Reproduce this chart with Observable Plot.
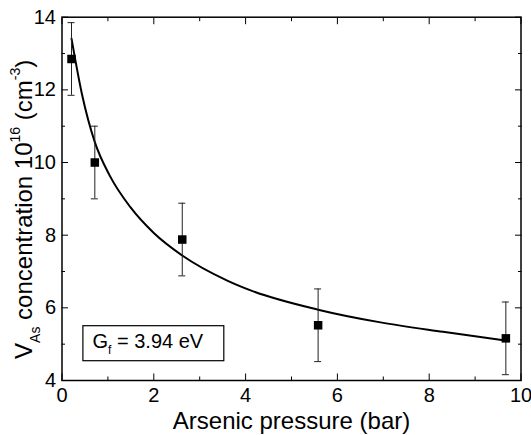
<!DOCTYPE html>
<html><head><meta charset="utf-8">
<script src="https://cdn.jsdelivr.net/npm/d3@7"></script>
<script src="https://cdn.jsdelivr.net/npm/@observablehq/plot@0.6"></script>
<style>body{margin:0;background:#fff} svg{display:block}</style>
</head><body><div id="chart"></div>
<script>
// measured points
const pressure = [0.207, 0.715, 2.62, 5.58, 9.67];
const concentration = [12.85, 10.0, 7.88, 5.52, 5.16];
const errorBar = [1, 1, 1, 1, 1];
// fitted curve
const fitPressure = [0.207, 0.44, 0.715, 1.04, 1.49, 2.0, 2.62, 3.6, 4.11, 5.58, 6.94, 8.3, 9.66];
const fitConcentration = [13.41, 11.85, 10.56, 9.64, 8.77, 8.06, 7.44, 6.75, 6.48, 5.95, 5.60, 5.34, 5.10];
// ticks
const xTicks = [0, 2, 4, 6, 8, 10];
const xMinorTicks = [1, 3, 5, 7, 9];
const yTicks = [4, 6, 8, 10, 12, 14];
const yMinorTicks = [5, 7, 9, 11, 13];
// texts
const xLabel = "Arsenic pressure (bar)";
const yLabelParts = [["V", "n"], ["As", "sub"], [" concentration 10", "n"], ["16", "sup"], [" (cm", "n"], ["-3", "sup"], [")", "n"]];
const annotationParts = [["G", "n"], ["f", "sub"], [" = 3.94 eV", "n"]];

const FONT = "Liberation Sans, Arial, Helvetica, sans-serif";
const points = pressure.map((p, i) => ({p, c: concentration[i], lo: concentration[i] - errorBar[i], hi: concentration[i] + errorBar[i]}));
const fit = fitPressure.map((p, i) => ({p, c: fitConcentration[i]}));
const blank = () => "";

const plot = Plot.plot({
  width: 531, height: 435,
  marginLeft: 61.5, marginRight: 10.5, marginTop: 16.7, marginBottom: 55,
  style: {fontFamily: FONT, fontSize: "20px", color: "black", background: "white", overflow: "visible"},
  x: {domain: [0, 10], label: null},
  y: {domain: [4, 14], label: null},
  marks: [
    Plot.axisX(xTicks, {anchor: "bottom", tickSize: -6.5, tickFormat: blank, label: null}),
    Plot.axisX(xMinorTicks, {anchor: "bottom", tickSize: -3.5, tickFormat: blank, label: null}),
    Plot.axisX(xTicks, {anchor: "top", tickSize: -6.5, tickFormat: blank, label: null}),
    Plot.axisX(xMinorTicks, {anchor: "top", tickSize: -3.5, tickFormat: blank, label: null}),
    Plot.axisY(yTicks, {anchor: "left", tickSize: -6.5, tickFormat: blank, label: null}),
    Plot.axisY(yMinorTicks, {anchor: "left", tickSize: -3.5, tickFormat: blank, label: null}),
    Plot.axisY(yTicks, {anchor: "right", tickSize: -6.5, tickFormat: blank, label: null}),
    Plot.axisY(yMinorTicks, {anchor: "right", tickSize: -3.5, tickFormat: blank, label: null}),
    Plot.axisX(xTicks, {anchor: "bottom", tickSize: 0, tickPadding: 7, fontSize: 20, label: null}),
    Plot.axisY(yTicks, {anchor: "left", tickSize: 0, tickPadding: 6, fontSize: 20, label: null}),
    Plot.frame({stroke: "black", strokeWidth: 1.5}),
    Plot.line(fit, {x: "p", y: "c", curve: "monotone-x", stroke: "black", strokeWidth: 2}),
    Plot.ruleX(points, {x: "p", y1: "lo", y2: "hi", stroke: "#222", strokeWidth: 1}),
    Plot.ruleY(points, {x1: "p", x2: "p", y: "lo", insetLeft: -3.5, insetRight: -3.5, stroke: "#222", strokeWidth: 1}),
    Plot.ruleY(points, {x1: "p", x2: "p", y: "hi", insetLeft: -3.5, insetRight: -3.5, stroke: "#222", strokeWidth: 1}),
    Plot.dot(points, {x: "p", y: "c", symbol: "square", r: 4.8, fill: "black", stroke: null}),
    Plot.text([xLabel], {text: d => d, frameAnchor: "bottom", lineAnchor: "bottom", dy: 48, fontSize: 24, fill: "black"})
  ]
});
document.getElementById("chart").appendChild(plot);

const svg = d3.select(plot);
const xS = plot.scale("x"), yS = plot.scale("y");

function addParts(textSel, parts, main, small, subShift, supShift) {
  let cur = 0;
  for (const [s, kind] of parts) {
    const target = kind === "sub" ? subShift : kind === "sup" ? -supShift : 0;
    textSel.append("tspan").attr("font-size", kind === "n" ? main : small).attr("dy", target - cur).text(s);
    cur = target;
  }
}

// y-axis title
const cy = (yS.range[0] + yS.range[1]) / 2 + 11;
const yt = svg.append("text")
  .attr("transform", `translate(31.5,${cy}) rotate(-90)`)
  .attr("text-anchor", "middle").attr("font-family", FONT).attr("fill", "black");
addParts(yt, yLabelParts, 24, 14, 8, 12);

// annotation box
const ag = svg.append("g");
const base = yS.range[0] - 31.7;
const at = ag.append("text")
  .attr("x", xS.range[0] + 31).attr("y", base)
  .attr("text-anchor", "start")
  .attr("font-family", FONT).attr("fill", "black");
addParts(at, annotationParts, 20, 12, 6, 0);
const bb = at.node().getBBox();
ag.insert("rect", "text")
  .attr("x", bb.x - 9.6).attr("y", base - 22.6)
  .attr("width", bb.width + 29.6).attr("height", 35)
  .attr("fill", "white").attr("stroke", "black").attr("stroke-width", 1.2);
</script></body></html>
